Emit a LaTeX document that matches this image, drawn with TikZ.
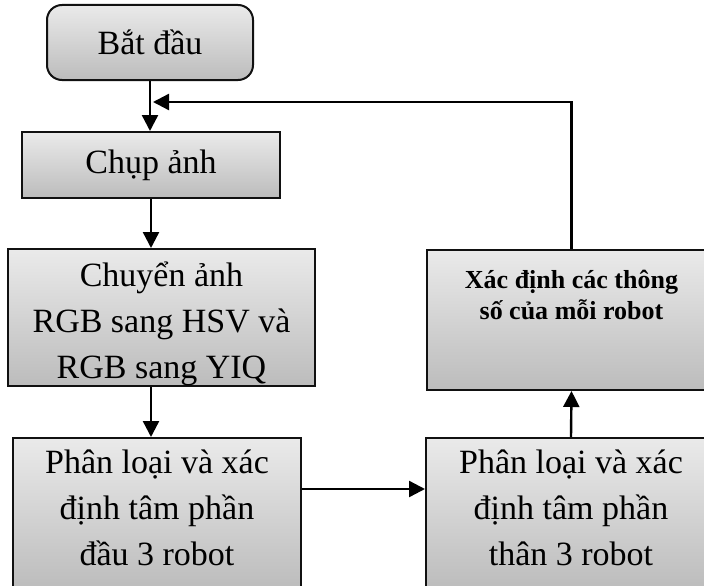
\documentclass[tikz,border=0pt]{standalone}
\usepackage{fontspec}
\setmainfont{Liberation Serif}
\usetikzlibrary{arrows.meta}

\begin{document}
\begin{tikzpicture}[x=1pt, y=-1pt,
    stepbox/.style={draw=borderColour, line width=2pt, top color=fillTop, bottom color=fillBottom,
        align=center, inner sep=0pt, font=\fontsize{34}{46}\selectfont},
    startbox/.style={stepbox, rounded corners=15pt},
    steptext/.style={align=center, inner sep=0pt, font=\fontsize{34}{46}\selectfont},
    flow/.style={line width=2.4pt, -{Triangle[length=16pt, width=16pt]}}]

    \definecolor{borderColour}{HTML}{111111}
    \definecolor{fillTop}{HTML}{EAEAEA}
    \definecolor{fillBottom}{HTML}{BCBCBC}

    % Page size
    \useasboundingbox (0,0) rectangle (704,586);
    \clip (0,0) rectangle (704,586);

    % Draw boxes
    \node[startbox, minimum width=206pt, minimum height=75pt] (start) at (150,42.5) {Bắt đầu};
    \node[stepbox, minimum width=258pt, minimum height=66pt] (capture) at (151,165) {Chụp ảnh};
    \node[stepbox, minimum width=307pt, minimum height=137pt] (convert) at (161.5,317.5) {};
    \node[stepbox, minimum width=288pt, minimum height=152pt] (headCls) at (157,514) {};
    \node[stepbox, minimum width=290pt, minimum height=152pt] (bodyCls) at (571,514) {};
    \node[stepbox, minimum width=289pt, minimum height=140pt] (params) at (571.5,320) {};

    % Texts of the boxes
    \node[steptext] (convertText) at ([yshift=-6pt]convert.center) {Chuyển ảnh\\RGB sang HSV và\\RGB sang YIQ};
    \node[steptext] (headText) at ([yshift=6pt]headCls.center) {Phân loại và xác\\định tâm phần\\đầu 3 robot};
    \node[steptext] (bodyText) at ([yshift=6pt]bodyCls.center) {Phân loại và xác\\định tâm phần\\thân 3 robot};
    \node[anchor=north, align=center, inner sep=0pt, font=\fontsize{26}{31}\selectfont\bfseries]
        (paramsText) at ([yshift=-21pt]params.north) {Xác định các thông\\số của mỗi robot};

    % Draw arrows
    \coordinate (join) at (153,102);
    \draw[flow] (start.south) -- (start.south |- capture.north);
    \draw[flow] (capture.south) -- (capture.south |- convert.north);
    \draw[flow] (capture.south |- convert.south) -- (capture.south |- headCls.north);
    \draw[flow] ([yshift=25pt]headCls.east) -- ([yshift=25pt]headCls.east -| bodyCls.west);
    \draw[flow] (bodyCls.north) -- (params.south);
    \draw[flow] (params.north) |- (join);

\end{tikzpicture}
\end{document}
